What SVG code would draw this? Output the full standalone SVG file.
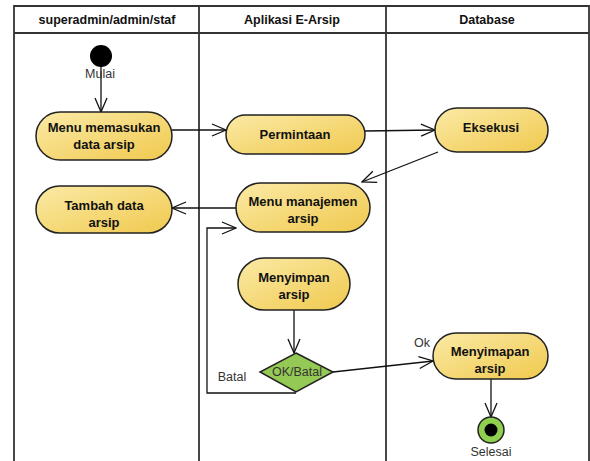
<svg xmlns="http://www.w3.org/2000/svg" width="590" height="461" viewBox="0 0 590 461">
<style>
.lane{fill:none;stroke:#333;stroke-width:1.8}
.hdr{font-family:"Liberation Sans",Arial,sans-serif;font-weight:bold;font-size:12.5px;fill:#111;text-anchor:middle}
.act{stroke:#222;stroke-width:1.5}
.t{font-family:"Liberation Sans",Arial,sans-serif;font-weight:bold;font-size:13px;fill:#111;text-anchor:middle}
.lbl{font-family:"Liberation Sans",Arial,sans-serif;font-size:12.5px;fill:#333;text-anchor:middle}
.c{fill:none;stroke:#111;stroke-width:1.3}
</style>
<defs>
<linearGradient id="g" x1="0" y1="0" x2="1" y2="1">
<stop offset="0" stop-color="#fbeaa6"/>
<stop offset="1" stop-color="#f0c94e"/>
</linearGradient>
<marker id="a" markerWidth="16" markerHeight="14" refX="15" refY="7" orient="auto" markerUnits="userSpaceOnUse">
<path d="M1,1 L15,7 L1,13" fill="none" stroke="#111" stroke-width="1.3"/>
</marker>
</defs>
<rect width="590" height="461" fill="#fff"/>
<g id="lanes">
<path class="lane" d="M14,461 V6 H589 V461 M14,33 H589 M199,6 V461 M386,6 V461"/>
<text class="hdr" x="107" y="24">superadmin/admin/staf</text>
<text class="hdr" x="292" y="24">Aplikasi E-Arsip</text>
<text class="hdr" x="487" y="24">Database</text>
</g>
<g id="connectors">
<path class="c" d="M101,67 V112" marker-end="url(#a)"/>
<path class="c" d="M172,130 H226" marker-end="url(#a)"/>
<path class="c" d="M365,131 L435,130" marker-end="url(#a)"/>
<path class="c" d="M438,152 L362,182" marker-end="url(#a)"/>
<path class="c" d="M236,208 H172" marker-end="url(#a)"/>
<path class="c" d="M296,393 H207 V228 H236" marker-end="url(#a)"/>
<path class="c" d="M294,310 V353" marker-end="url(#a)"/>
<path class="c" d="M333,372 L433,361" marker-end="url(#a)"/>
<path class="c" d="M491,379 V417" marker-end="url(#a)"/>
<text class="lbl" x="232" y="381">Batal</text>
<text class="lbl" x="422" y="347">Ok</text>
</g>
<g id="start">
<circle cx="101" cy="56" r="11" fill="#000"/>
<text class="lbl" x="100" y="78">Mulai</text>
</g>
<g id="menu-memasukan">
<rect class="act" x="36" y="112" width="136" height="48" rx="24" fill="url(#g)"/>
<text class="t" x="104" y="132">Menu memasukan</text>
<text class="t" x="104" y="149">data arsip</text>
</g>
<g id="permintaan">
<rect class="act" x="226" y="115" width="139" height="39" rx="19.5" fill="url(#g)"/>
<text class="t" x="295" y="139">Permintaan</text>
</g>
<g id="eksekusi">
<rect class="act" x="435" y="108" width="113" height="44" rx="22" fill="url(#g)"/>
<text class="t" x="491" y="132">Eksekusi</text>
</g>
<g id="menu-manajemen">
<rect class="act" x="236" y="183" width="134" height="49" rx="24.5" fill="url(#g)"/>
<text class="t" x="303" y="206">Menu manajemen</text>
<text class="t" x="303" y="223">arsip</text>
</g>
<g id="tambah">
<rect class="act" x="36" y="186" width="136" height="47" rx="23.5" fill="url(#g)"/>
<text class="t" x="104" y="210">Tambah data</text>
<text class="t" x="104" y="227">arsip</text>
</g>
<g id="menyimpan">
<rect class="act" x="238" y="258" width="112" height="52" rx="26" fill="url(#g)"/>
<text class="t" x="294" y="282">Menyimpan</text>
<text class="t" x="294" y="299">arsip</text>
</g>
<g id="decision">
<path class="act" d="M296,353 L333,372 L296,392 L260,372 Z" fill="#95c955"/>
<text class="lbl" x="297" y="376" fill="#222">OK/Batal</text>
</g>
<g id="menyimapan">
<rect class="act" x="433" y="333" width="115" height="46" rx="23" fill="url(#g)"/>
<text class="t" x="490" y="356">Menyimapan</text>
<text class="t" x="490" y="373">arsip</text>
</g>
<g id="end">
<circle cx="491" cy="430" r="13" fill="#8fd14f" stroke="#222" stroke-width="1.5"/>
<circle cx="491" cy="430" r="6.5" fill="#000"/>
<text class="lbl" x="491" y="456">Selesai</text>
</g>
</svg>
